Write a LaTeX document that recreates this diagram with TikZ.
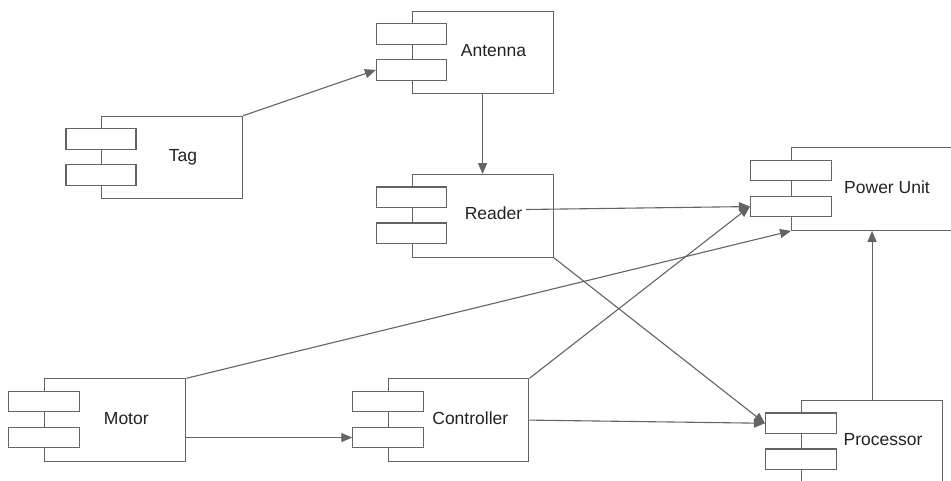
\documentclass[tikz,border=0pt]{standalone}
\usepackage{fontspec}
\setmainfont{Liberation Sans}
\usetikzlibrary{arrows.meta}
\definecolor{edgegray}{RGB}{100,100,100}
\definecolor{txtgray}{RGB}{34,34,34}
\tikzset{
  compbox/.style={draw=edgegray, line width=1.1pt, fill=white, minimum height=82.5pt, inner sep=0pt, anchor=north west},
  port/.style={draw=edgegray, line width=1.1pt, fill=white, minimum height=20.5pt, inner sep=0pt},
  comptext/.style={font=\fontsize{17.5}{20}\selectfont, text=txtgray, inner sep=0pt, text height=12.5pt, text depth=3.5pt},
  conn/.style={draw=edgegray, line width=1.1pt, -{Triangle[length=11pt,width=9pt]}}
}
% name, left, top, text, text x offset, box width, port width
\newcommand\mycomponent[7]{%
  \node[compbox, minimum width=#6pt] (#1) at (#2,#3) {};
  \node[port, minimum width=#7pt] (#1-p1) at (#2,{#3+23.25}) {};
  \node[port, minimum width=#7pt] (#1-p2) at (#2,{#3+59.25}) {};
  \node[comptext] (#1-t) at ({#2+#5},{#3+41.25}) {#4};
}
\begin{document}
\begin{tikzpicture}[x=1pt,y=-1pt]
  \useasboundingbox (0,0) rectangle (951,480);
  \fill[white] (0,0) rectangle (951,480);
  \clip (0,0) rectangle (951,480);
  \mycomponent{antenna}{411.5}{10.7}{Antenna}{82}{141}{70}
  \mycomponent{tag}{101}{115.7}{Tag}{82}{141}{70}
  \mycomponent{reader}{411.5}{174}{Reader}{82}{141}{70}
  \mycomponent{power}{791}{147.3}{Power Unit}{96}{162}{81}
  \mycomponent{motor}{44.3}{378.3}{Motor}{82}{141}{71}
  \mycomponent{controller}{388.3}{378.3}{Controller}{82}{140}{71}
  \mycomponent{processor}{801}{400}{Processor}{82}{141}{71}
  \coordinate (reader-out) at (526,209.5);
  \draw[conn] (tag.north east) -- (antenna-p2.west);
  \draw[conn] (antenna.south) -- (reader.north);
  \draw[conn] (reader-out) -- (power-p2.west);
  \draw[conn] (reader.south east) -- (processor-p1.west);
  \draw[conn] (motor.north east) -- (power.south west);
  \draw[conn] (motor.east |- controller-p2.west) -- (controller-p2.west);
  \draw[conn] (controller.east) -- (processor-p1.west);
  \draw[conn] (controller.north east) -- (power-p2.west);
  \draw[conn] (processor.north) -- (processor.north |- power.south);
\end{tikzpicture}
\end{document}
